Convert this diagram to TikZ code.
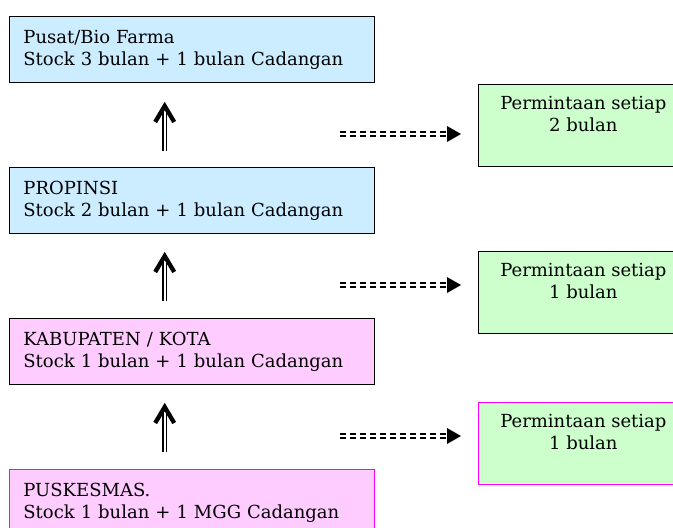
\documentclass[tikz,border=0pt]{standalone}
\usepackage{fontspec}
\setmainfont{DejaVu Serif}
\definecolor{lvlblue}{RGB}{204,236,255}
\definecolor{lvlpink}{RGB}{255,204,255}
\definecolor{reqgreen}{RGB}{204,255,204}
\definecolor{edgemag}{RGB}{255,0,255}
\begin{document}
\begin{tikzpicture}[x=1pt,y=-1pt,
  level/.style={draw=black, line width=0.8pt, anchor=north west,
    minimum width=365pt, minimum height=66pt, text width=337pt,
    inner xsep=14pt, inner ysep=0pt, align=left,
    font=\fontsize{18}{22}\selectfont},
  reqbox/.style={draw=black, line width=0.8pt, fill=reqgreen, anchor=north west,
    minimum width=210pt, minimum height=82pt, inner sep=0pt},
  reqtext/.style={anchor=north, inner sep=0pt, align=center,
    font=\fontsize{18}{22}\selectfont},
  shaft/.style={draw=black, double=white, double distance=2pt, line width=1.3pt},
  chevron/.style={draw=black, line width=4.3pt, miter limit=10},
  flow/.style={draw=black, double=white, double distance=2.5pt, line width=1.5pt,
    dash pattern=on 6pt off 4pt},
  flowhead/.style={fill=black}
]
\path[use as bounding box] (0,0) rectangle (673,528);
\clip (0,0) rectangle (673,528);

% supply levels
\node[level, fill=lvlblue] (pusat) at (9,16)
  {Pusat/Bio Farma\\Stock 3 bulan + 1 bulan Cadangan};
\node[level, fill=lvlblue] (prop) at (9,167)
  {PROPINSI\\Stock 2 bulan + 1 bulan Cadangan};
\node[level, fill=lvlpink] (kab) at (9,318)
  {KABUPATEN / KOTA\\Stock 1 bulan + 1 bulan Cadangan};
\node[level, fill=lvlpink, draw=edgemag] (pkm) at (9,469)
  {PUSKESMAS.\\Stock 1 bulan + 1 MGG Cadangan};

% request boxes
\node[reqbox] (r1) at (478,84) {};
\node[reqtext] (t1) at ([yshift=-12pt]r1.north) {Permintaan setiap\\2 bulan};
\node[reqbox] (r2) at (478,251) {};
\node[reqtext] (t2) at ([yshift=-12pt]r2.north) {Permintaan setiap\\1 bulan};
\node[reqbox, draw=edgemag] (r3) at (478,402) {};
\node[reqtext] (t3) at ([yshift=-12pt]r3.north) {Permintaan setiap\\1 bulan};

% upward supply arrows
\foreach \i/\yb in {1/151, 2/301, 3/452} {
  \coordinate (up\i b) at (164.7,\yb);
  \coordinate (up\i s) at (164.7,\yb-40);
  \coordinate (up\i t) at (164.7,\yb-45);
  \path[shaft] (up\i b) -- (up\i s);
  \draw[chevron] ([xshift=-9.5pt,yshift=-16pt]up\i t) -- (up\i t)
    -- ([xshift=9.5pt,yshift=-16pt]up\i t);
}

% dashed request arrows
\foreach \i/\y in {1/134, 2/285, 3/436} {
  \coordinate (fl\i s) at (340,\y);
  \coordinate (fl\i e) at (447,\y);
  \coordinate (fl\i h) at (461,\y);
  \path[flow] (fl\i s) -- (fl\i e);
  \fill[flowhead] ([yshift=8pt]fl\i e) -- (fl\i h) -- ([yshift=-8pt]fl\i e) -- cycle;
}
\end{tikzpicture}
\end{document}
